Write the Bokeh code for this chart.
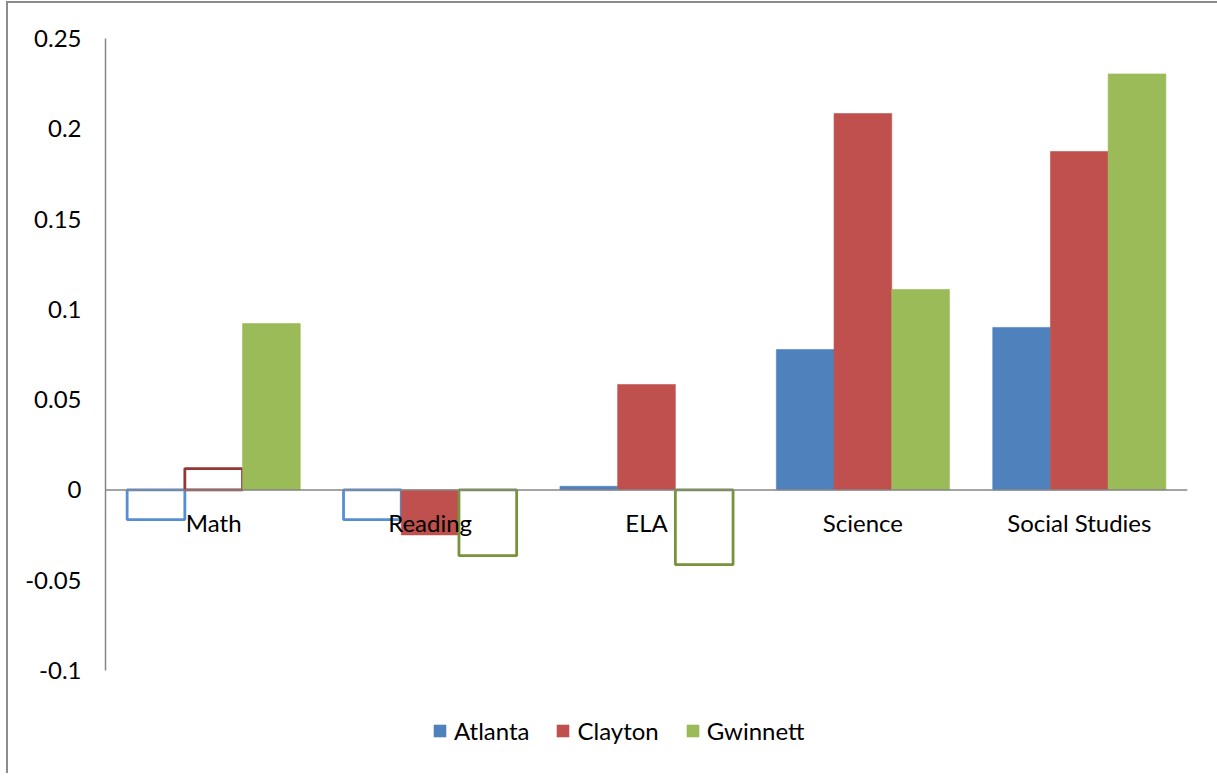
from bokeh.plotting import figure
from bokeh.models import FactorRange, Range1d, ColumnDataSource, Legend, LegendItem, FixedTicker, Span
from bokeh.core.properties import value
from bokeh.transform import dodge
from bokeh.embed import file_html
from bokeh.resources import INLINE

categories = ["Math", "Reading", "ELA", "Science", "Social Studies"]
series = ["Atlanta", "Clayton", "Gwinnett"]
atlanta = [-0.0165, -0.0165, 0.002, 0.0777, 0.0900]
clayton = [0.0118, -0.0249, 0.0584, 0.2084, 0.1874]
gwinnett = [0.0921, -0.0364, -0.0414, 0.1110, 0.2304]
# bars drawn as outlines only (no fill) in the source chart
atlanta_hollow = [True, True, False, False, False]
clayton_hollow = [True, False, False, False, False]
gwinnett_hollow = [False, True, True, False, False]
y_ticks = [-0.1, -0.05, 0, 0.05, 0.1, 0.15, 0.2, 0.25]
y_tick_labels = ["-0.1", "-0.05", "0", "0.05", "0.1", "0.15", "0.2", "0.25"]
y_axis_min, y_axis_max = -0.1, 0.25

fill_colors = ["#4F81BD", "#C0504D", "#9BBB59"]
edge_colors = ["#558ED5", "#953735", "#77933C"]
FONT = "Lato"

# frame extends below the value axis to hold the legend (as in the Excel chart area)
frame_h = 727
axis_px = 632
y_start = y_axis_max - (y_axis_max - y_axis_min) * frame_h / axis_px

p = figure(
    x_range=FactorRange(*categories),
    y_range=Range1d(y_start, y_axis_max),
    frame_width=1082, frame_height=frame_h,
    min_border_left=97, min_border_top=35, min_border_right=30, min_border_bottom=8,
    output_backend="svg", toolbar_location=None,
    x_axis_location=None,
    margin=(1, 0, 0, 6),
)
p.styles = {"border-left": "2px solid #8C8C8C", "border-top": "2px solid #8C8C8C"}
p.outline_line_color = None
p.xgrid.grid_line_color = None
p.ygrid.grid_line_color = None
p.background_fill_color = "white"
p.border_fill_color = "white"

bar_w = 1.0 / 3.75
offsets = [-bar_w, 0.0, bar_w]
renderers = []
for name, vals, hollow, fc, ec, off in zip(series, [atlanta, clayton, gwinnett],
                                           [atlanta_hollow, clayton_hollow, gwinnett_hollow],
                                           fill_colors, edge_colors, offsets):
    src = ColumnDataSource(dict(
        cat=categories,
        val=vals,
        fill_alpha=[0.0 if h else 1.0 for h in hollow],
        line_color=[ec if h else fc for h in hollow],
        line_width=[2.8 if h else 0.6 for h in hollow],
    ))
    r = p.vbar(x=dodge("cat", off, range=p.x_range), top="val", bottom=0, width=bar_w,
               source=src, fill_color=fc, fill_alpha="fill_alpha",
               line_color="line_color", line_width="line_width")
    renderers.append(r)

# category axis line at zero
p.add_layout(Span(location=0, dimension="width", line_color="#868686", line_width=1.5))

# category labels below the zero line
lab_src = ColumnDataSource(dict(cat=categories, y=[0] * len(categories)))
p.text(x="cat", y="y", text="cat", source=lab_src, y_offset=18,
       text_align="center", text_baseline="top",
       text_font=value(FONT), text_font_size="24px", text_color="black")

# y axis
ya = p.yaxis[0]
ya.ticker = FixedTicker(ticks=y_ticks)
ya.major_label_overrides = {t: l for t, l in zip(y_ticks, y_tick_labels)}
ya.bounds = (y_axis_min, y_axis_max)
ya.axis_line_color = "#868686"
ya.axis_line_width = 1.5
ya.major_tick_line_color = None
ya.minor_tick_line_color = None
ya.major_tick_out = 0
ya.major_label_standoff = 24
ya.major_label_text_font = FONT
ya.major_label_text_font_size = "24px"
ya.major_label_text_color = "black"

legend = Legend(
    items=[LegendItem(label=n, renderers=[r], index=3) for n, r in zip(series, renderers)],
    orientation="horizontal", location=(327, 20),
    glyph_width=15, glyph_height=15, label_standoff=7, spacing=26,
    label_text_font=FONT, label_text_font_size="24px", label_text_color="black",
    border_line_color=None, background_fill_alpha=0, padding=0, margin=0,
)
p.add_layout(legend, "center")

open("out.html", "w").write(file_html(p, INLINE))
